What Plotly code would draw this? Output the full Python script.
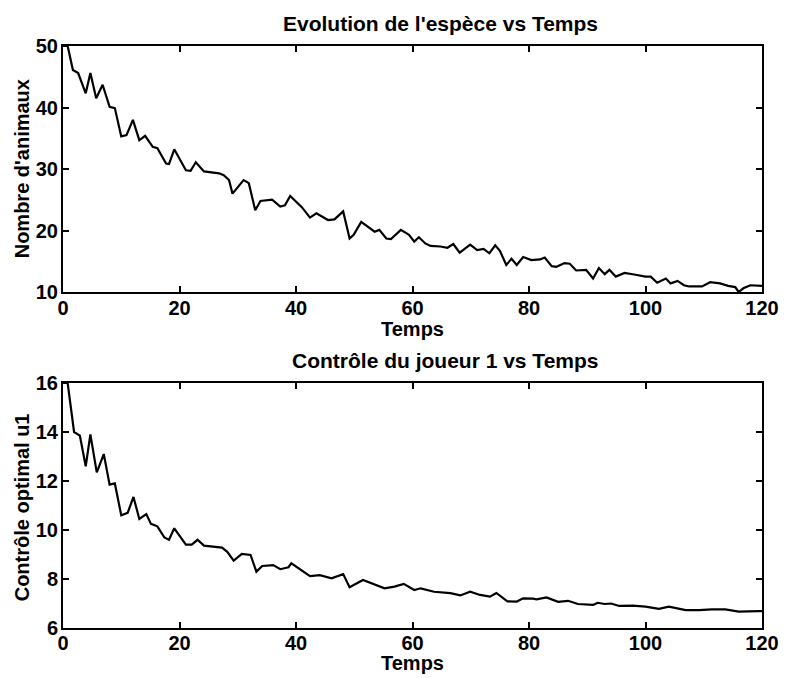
import plotly.graph_objects as go

# ---- data ----
t_pop = [0, 0.8, 1.7, 2.6, 3.9, 4.7, 5.7, 6.8, 8, 8.9, 10, 10.9, 12, 13.1, 14.1, 15.4, 16.2, 17.7, 18.2, 19.1,
         21.1, 21.9, 22.8, 24.2, 26.8, 27.6, 28.5, 29.1, 31, 31.9, 33, 33.9, 35.9, 37.3, 38.1, 39, 41, 42.4,
         43.5, 45.5, 46.6, 48.1, 49.2, 49.9, 51.2, 52.3, 53.5, 54.3, 55.5, 56.3, 58, 59.4, 60.3, 61.1, 62.2,
         63.1, 64.8, 66, 67, 68.1, 69.9, 71.1, 72.2, 73.2, 74.2, 75, 76.1, 77, 77.9, 79, 80.4, 81.9, 82.7,
         83.9, 84.7, 86.1, 87, 88.1, 89.8, 91, 92, 93, 93.8, 94.9, 96.4, 98.3, 100, 100.9, 102, 103.5, 104.3,
         105.5, 106.6, 107.5, 109.7, 111.1, 112.8, 114.2, 115.4, 116, 116.8, 118, 119.7, 120]
pop_vals = [50, 50, 46.1, 45.6, 42.3, 45.6, 41.5, 43.7, 40.1, 39.9, 35.3, 35.5, 38, 34.7, 35.4, 33.6, 33.4, 30.9,
            30.8, 33.2, 29.8, 29.7, 31.1, 29.6, 29.3, 29.0, 28.2, 26.0, 28.2, 27.7, 23.3, 24.8, 25, 23.9, 24.1,
            25.6, 23.8, 22.1, 22.8, 21.7, 21.8, 23.1, 18.7, 19.3, 21.4, 20.6, 19.8, 20.1, 18.7, 18.6, 20.1, 19.3,
            18.2, 18.9, 17.9, 17.5, 17.4, 17.2, 17.8, 16.4, 17.7, 16.8, 17.0, 16.3, 17.6, 16.7, 14.4, 15.4, 14.4,
            15.7, 15.2, 15.3, 15.6, 14.2, 14.1, 14.7, 14.6, 13.5, 13.6, 12.2, 13.9, 12.9, 13.6, 12.5, 13.1, 12.8,
            12.5, 12.5, 11.5, 12.2, 11.4, 11.8, 11.1, 10.9, 10.9, 11.6, 11.4, 11.0, 10.8, 10.0, 10.6, 11.1, 11.0, 11.0]

t_ctrl = [0, 0.8, 1.9, 2.9, 3.9, 4.7, 5.8, 7, 8, 8.9, 10, 11.1, 12.1, 13.1, 14.3, 15.1, 16.2, 17.4, 18.2, 19.1,
          21.1, 22.1, 23.1, 24.2, 27.3, 28.2, 29.3, 30.7, 32.2, 33.2, 34.2, 36.1, 37.3, 38.7, 39.2, 42.4, 44.1,
          46.1, 48.1, 49.2, 51.5, 53.5, 55.2, 56.9, 58.5, 60.3, 61.4, 63.7, 65.4, 66.5, 68.2, 69.9, 71.6, 73.3,
          74.4, 76.3, 77.9, 79, 80.7, 81.3, 83, 85, 86.7, 88.4, 91, 91.8, 93, 94.1, 95.5, 97.8, 100, 102.3, 104,
          106.9, 109.2, 111.4, 113.7, 116, 119.4, 120]
ctrl_vals = [16, 16, 14.0, 13.85, 12.6, 13.9, 12.35, 13.1, 11.85, 11.9, 10.6, 10.7, 11.35, 10.45, 10.65, 10.25,
             10.15, 9.7, 9.6, 10.07, 9.4, 9.4, 9.6, 9.36, 9.28, 9.11, 8.75, 9.02, 8.98, 8.3, 8.53, 8.57, 8.4, 8.48,
             8.64, 8.12, 8.16, 8.03, 8.2, 7.66, 7.96, 7.76, 7.62, 7.69, 7.8, 7.55, 7.62, 7.48, 7.44, 7.42, 7.33,
             7.48, 7.35, 7.28, 7.43, 7.09, 7.08, 7.21, 7.2, 7.17, 7.25, 7.07, 7.11, 6.98, 6.94, 7.03, 6.98, 7.0,
             6.9, 6.91, 6.87, 6.78, 6.87, 6.73, 6.73, 6.76, 6.76, 6.67, 6.69, 6.69]

x_ticks = [0, 20, 40, 60, 80, 100, 120]
pop_ticks = [10, 20, 30, 40, 50]
ctrl_ticks = [6, 8, 10, 12, 14, 16]

title_top = "Evolution de l'espèce vs Temps"
title_bot = "Contrôle du joueur 1 vs Temps"
xlabel = "Temps"
ylabel_top = "Nombre d'animaux"
ylabel_bot = "Contrôle optimal u1"

# ---- figure ----
FONT = "Liberation Sans, Arial, Helvetica, sans-serif"
W, H = 791, 678
L, R, T, B = 63, 24, 46, 50
ph = H - T - B

def py(ypx):
    return (H - B - ypx) / ph

def px(xpx):
    return (xpx - L) / (W - L - R)

fig = go.Figure()
fig.add_trace(go.Scatter(x=t_pop, y=pop_vals, mode="lines", line=dict(color="black", width=2.2),
                         xaxis="x", yaxis="y", showlegend=False))
fig.add_trace(go.Scatter(x=t_ctrl, y=ctrl_vals, mode="lines", line=dict(color="black", width=2.2),
                         xaxis="x2", yaxis="y2", showlegend=False))

tick_font = dict(family=FONT, size=20, color="black", weight="bold")
axis_common = dict(showgrid=False, zeroline=False, showline=True, linecolor="black", linewidth=2,
                   mirror="ticks", ticks="inside", ticklen=6, tickwidth=1.5, tickcolor="black",
                   tickfont=tick_font)

fig.update_layout(
    width=W, height=H,
    margin=dict(l=L, r=R, t=T, b=B),
    paper_bgcolor="white", plot_bgcolor="white",
    xaxis=dict(domain=[0, 1], range=[0, 120], tickvals=x_ticks, anchor="y", ticklabelstandoff=-3,
               **axis_common),
    yaxis=dict(domain=[py(292), 1], range=[10, 50], tickvals=pop_ticks, anchor="x", ticklabelstandoff=-1,
               **axis_common),
    xaxis2=dict(domain=[0, 1], range=[0, 120], tickvals=x_ticks, anchor="y2", ticklabelstandoff=-4,
                **axis_common),
    yaxis2=dict(domain=[0, py(383)], range=[6, 16], tickvals=ctrl_ticks, anchor="x2", ticklabelstandoff=-1,
                **axis_common),
)

lab_font = dict(family=FONT, size=20, color="black", weight="bold")
title_font = dict(family=FONT, size=21, color="black", weight="bold")
ann = [
    dict(text=title_top, x=px(443), y=py(24), xref="paper", yref="paper", showarrow=False, font=title_font,
         xanchor="center", yanchor="middle"),
    dict(text=xlabel, x=0.5, y=py(329), xref="paper", yref="paper", showarrow=False, font=lab_font,
         xanchor="center", yanchor="middle"),
    dict(text=title_bot, x=px(448), y=py(360), xref="paper", yref="paper", showarrow=False, font=title_font,
         xanchor="center", yanchor="middle"),
    dict(text=xlabel, x=0.5, y=py(663), xref="paper", yref="paper", showarrow=False, font=lab_font,
         xanchor="center", yanchor="middle", borderpad=0),
    dict(text=ylabel_top, x=px(22), y=py(169), xref="paper", yref="paper", showarrow=False,
         font=lab_font, textangle=-90, xanchor="center", yanchor="middle"),
    dict(text=ylabel_bot, x=px(22), y=py(507), xref="paper", yref="paper", showarrow=False,
         font=lab_font, textangle=-90, xanchor="center", yanchor="middle"),
]
fig.update_layout(annotations=ann)

fig.write_html("out.html", config={"displayModeBar": False},
               post_script="document.body.style.margin='0px';")
